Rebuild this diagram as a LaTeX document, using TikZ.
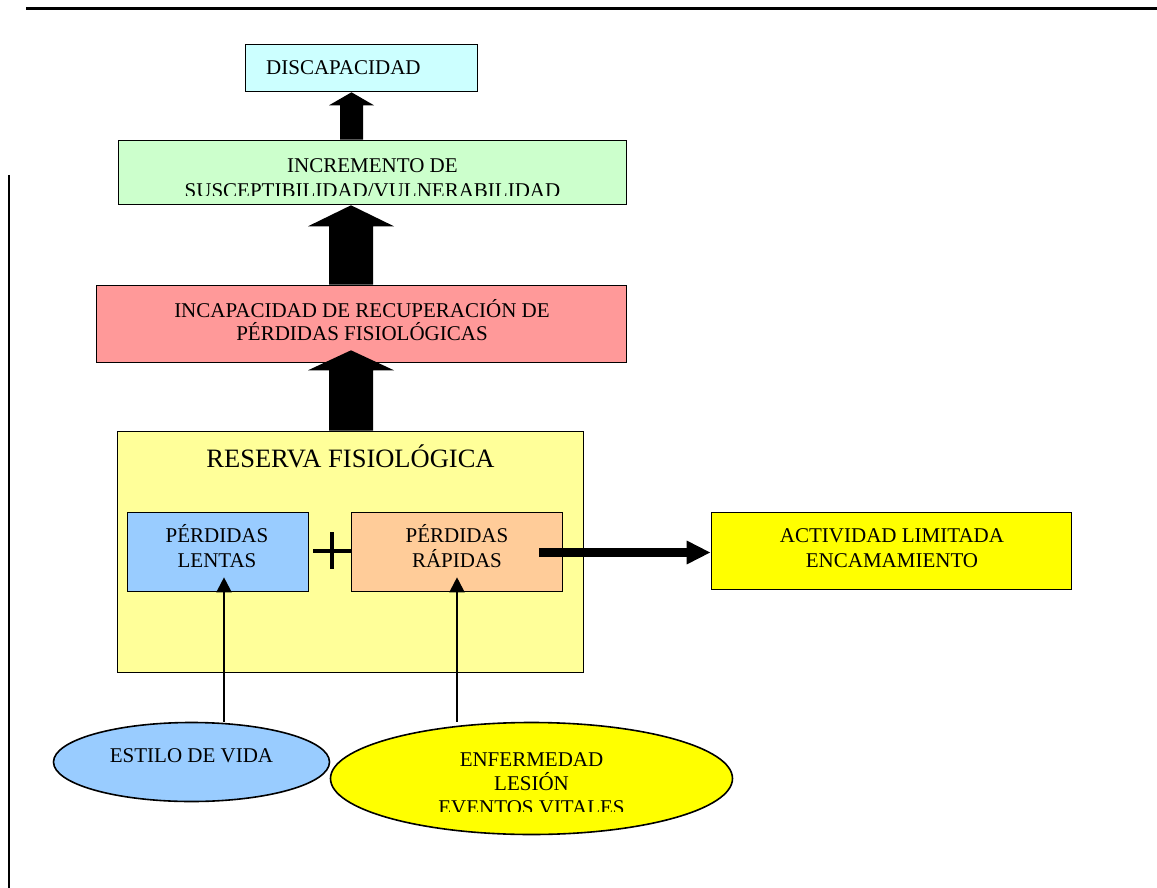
\documentclass[tikz,border=0pt]{standalone}
\usepackage{fontspec}
\setmainfont{Liberation Serif}
\usetikzlibrary{shapes.geometric,arrows.meta,calc}
\definecolor{cdisc}{HTML}{CCFFFF}
\definecolor{cincr}{HTML}{CCFFCC}
\definecolor{cincap}{HTML}{FF9999}
\definecolor{cres}{HTML}{FFFF99}
\definecolor{clent}{HTML}{99CCFF}
\definecolor{crap}{HTML}{FFCC99}
\definecolor{cyel}{HTML}{FFFF00}
\begin{document}
\begin{tikzpicture}[x=1pt,y=-1pt,
  box/.style={draw,line width=1.6pt,inner sep=0pt,rectangle},
  ell/.style={draw,line width=1.6pt,inner sep=0pt,ellipse},
  txt/.style={anchor=base,inner sep=0pt,font=\fontsize{21}{24}\selectfont},
  bigtxt/.style={anchor=base,inner sep=0pt,font=\fontsize{26.5}{30}\selectfont},
  thinarrow/.style={line width=2pt,-{Triangle[width=15pt,length=15pt]}},
  fatarrow/.style={line width=9pt,-{Triangle[width=22pt,length=24pt]}},
  blockarrow/.style n args={3}{fill=black,to path={let \p1=(\tikztostart),\p2=(\tikztotarget) in
    (\x1-#1,\y1) -- (\x1-#1,\y2-#3) -- (\x1-#2,\y2-#3) -- (\x1,\y2) -- (\x1+#2,\y2-#3) -- (\x1+#1,\y2-#3) -- (\x1+#1,\y1) -- cycle}},
  plusbar/.style={line width=4.5pt}
]
\useasboundingbox (0,0) rectangle (1157,888);
% page rules
\draw[line width=3pt] (26,9) -- (1157,9);
\draw[line width=2pt] (9,175) -- (9,888);

% boxes
\node[box,fill=cdisc,minimum width=232pt,minimum height=47pt] (disc) at (361.5,68) {};
\node[box,fill=cincr,minimum width=508pt,minimum height=64pt] (incr) at (372.5,172.5) {};
\node[box,fill=cincap,minimum width=530pt,minimum height=77pt] (incap) at (361.5,324) {};
\node[box,fill=cres,minimum width=466pt,minimum height=241pt] (res) at (350.5,552) {};
\node[box,fill=clent,minimum width=181pt,minimum height=79pt] (lent) at (218,552) {};
\node[box,fill=crap,minimum width=211pt,minimum height=79pt] (rap) at (457,552) {};
\node[box,fill=cyel,minimum width=360pt,minimum height=77pt] (act) at (891.5,551) {};
\node[ell,fill=clent,minimum width=276pt,minimum height=79pt] (est) at (191.5,762) {};
\node[ell,fill=cyel,minimum width=402pt,minimum height=112pt] (enf) at (531.5,778.5) {};

% texts
\node[txt,anchor=base west] (tdisc) at (266,75) {DISCAPACIDAD};
\node[txt] (tincr1) at (372.5,172) {INCREMENTO DE};
\begin{scope}
  \clip (100,140) rectangle (650,195.5);
  \node[txt] (tincr2) at (372.5,197) {SUSCEPTIBILIDAD/VULNERABILIDAD};
\end{scope}
\node[txt] (tincap1) at (362,317) {INCAPACIDAD DE RECUPERACIÓN DE};
\node[txt] (tincap2) at (362,340) {PÉRDIDAS FISIOLÓGICAS};
\node[bigtxt] (tres) at (350.5,467) {RESERVA FISIOLÓGICA};
\node[txt] (tlent1) at (217,542) {PÉRDIDAS};
\node[txt] (tlent2) at (217,567) {LENTAS};
\node[txt] (trap1) at (457,542) {PÉRDIDAS};
\node[txt] (trap2) at (457,567) {RÁPIDAS};
\node[txt] (tact1) at (892,542) {ACTIVIDAD LIMITADA};
\node[txt] (tact2) at (892,567) {ENCAMAMIENTO};
\node[txt] (test) at (191.5,762) {ESTILO DE VIDA};
\node[txt] (tenf1) at (531.5,766) {ENFERMEDAD};
\node[txt] (tenf2) at (531.5,790) {LESIÓN};
\begin{scope}
  \clip (330,795) rectangle (735,811.7);
  \node[txt] (tenf3) at (531.5,814) {EVENTOS VITALES};
\end{scope}

% block arrows
\coordinate (ax1) at (351.5,0);
\coordinate (ax) at (351,0);
\fill[blockarrow={11.5pt}{22.5pt}{13pt}] (incr.north -| ax1) to (disc.south -| ax1);
\fill[blockarrow={22pt}{43pt}{21pt}] (incap.north -| ax) to (incr.south -| ax);
\fill[blockarrow={22pt}{43pt}{20pt}] (res.north -| ax) to ($(incap.south -| ax)+(0,-13)$);

% plus sign
\coordinate (pl) at (313,551);
\draw[plusbar] (pl) -- (rap.west |- pl);
\draw[plusbar] (332,532) -- (332,569);

% arrow to ACTIVIDAD
\coordinate (ra) at ($(rap.east)+(-24,0.5)$);
\draw[fatarrow] (ra) -- (act.west |- ra);

% arrows from ellipses
\coordinate (xl) at (224,0);
\coordinate (xr) at (457,0);
\draw[thinarrow] (est.north -| xl) -- ($(lent.south -| xl)+(0,-15)$);
\draw[thinarrow] (enf.north -| xr) -- ($(rap.south -| xr)+(0,-15)$);
\end{tikzpicture}
\end{document}
